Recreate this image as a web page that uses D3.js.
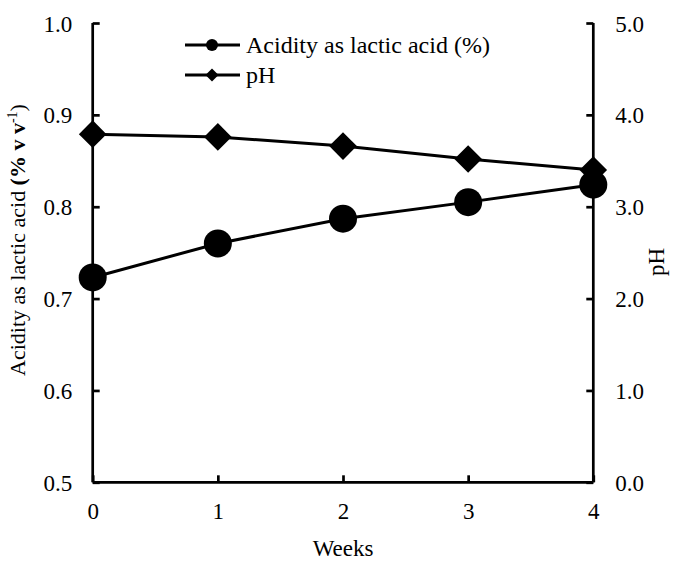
<!DOCTYPE html>
<html>
<head>
<meta charset="utf-8">
<script src="https://cdn.jsdelivr.net/npm/d3@7"></script>
<style>
  html, body { margin: 0; padding: 0; background: #fff; }
  svg { display: block; }
</style>
</head>
<body>
<svg id="chart" width="673" height="563"></svg>
<script>
const weeks = [0, 1, 2, 3, 4];
const acidity = [0.723, 0.760, 0.787, 0.805, 0.824];
const pH = [3.79, 3.76, 3.66, 3.52, 3.40];
const leftTicks = [0.5, 0.6, 0.7, 0.8, 0.9, 1.0];
const rightTicks = [0, 1, 2, 3, 4, 5];
const seriesNames = ["Acidity as lactic acid (%)", "pH"];

const FONT = "'Liberation Serif', 'Times New Roman', Times, 'DejaVu Serif', serif";
const svg = d3.select("#chart");
const m = { left: 92.7, right: 593.3, top: 23, bottom: 482.3 };

const x = d3.scaleLinear().domain([0, 4]).range([m.left, m.right]);
const yL = d3.scaleLinear().domain([0.5, 1.0]).range([m.bottom, m.top]);
const yR = d3.scaleLinear().domain([0, 5]).range([m.bottom, m.top]);

const fsTick = 23, fsLeg = 24, fsTitle = 23, fsYTitle = 22;

// Axes
const xAxis = d3.axisBottom(x).tickValues(weeks).tickSize(-7).tickPadding(0).tickFormat(d3.format("d"));
const gx = svg.append("g").attr("transform", `translate(0,${m.bottom})`).call(xAxis);
gx.select(".domain").attr("d", `M${m.left},0H${m.right}`);
gx.selectAll("text").attr("dy", null).attr("y", 37);

const lAxis = d3.axisLeft(yL).tickValues(leftTicks).tickSize(-7).tickPadding(0).tickFormat(d3.format(".1f"));
const gl = svg.append("g").attr("transform", `translate(${m.left},0)`).call(lAxis);
gl.select(".domain").attr("d", `M0,${m.top}V${m.bottom}`);
gl.selectAll("text").attr("x", -20.5).attr("dy", "0.35em");

const rAxis = d3.axisRight(yR).tickValues(rightTicks).tickSize(-7).tickPadding(0).tickFormat(d3.format(".1f"));
const gr = svg.append("g").attr("transform", `translate(${m.right},0)`).call(rAxis);
gr.select(".domain").attr("d", `M0,${m.top}V${m.bottom}`);
gr.selectAll("text").attr("x", 22).attr("dy", "0.35em");

svg.selectAll("g").attr("font-family", null).attr("font-size", null);
svg.selectAll(".domain, .tick line").attr("stroke", "#000").attr("stroke-width", 2.7);
svg.selectAll(".tick text").style("font-size", fsTick + "px");

// Axis titles
svg.append("text").attr("x", (m.left + m.right) / 2).attr("y", 556)
  .attr("text-anchor", "middle").style("font-size", fsTitle + "px").text("Weeks");

const lt = svg.append("text").attr("transform", "translate(25,240) rotate(-90)")
  .attr("text-anchor", "middle").style("font-size", fsYTitle + "px");
lt.append("tspan").text("Acidity as lactic acid ");
lt.append("tspan").style("font-weight", "bold").text("(% v v");
lt.append("tspan").attr("dy", -8).style("font-size", "14px").text("-1");
lt.append("tspan").attr("dy", 8).text(")");

svg.append("text").attr("transform", "translate(664,262) rotate(-90)")
  .attr("text-anchor", "middle").style("font-size", fsTitle + "px").text("pH");

// Lines
const lineL = d3.line().x((d, i) => x(weeks[i])).y(d => yL(d));
const lineR = d3.line().x((d, i) => x(weeks[i])).y(d => yR(d));

svg.append("path").attr("d", lineR(pH)).attr("fill", "none").attr("stroke", "#000").attr("stroke-width", 3);
svg.append("path").attr("d", lineL(acidity)).attr("fill", "none").attr("stroke", "#000").attr("stroke-width", 3);

const diamond = (s) => `M0,${-s}L${s},0L0,${s}L${-s},0Z`;

svg.selectAll(".ph").data(pH).enter().append("path")
  .attr("transform", (d, i) => `translate(${x(weeks[i])},${yR(d)})`)
  .attr("d", diamond(13.8)).attr("fill", "#000");

svg.selectAll(".ac").data(acidity).enter().append("circle")
  .attr("cx", (d, i) => x(weeks[i])).attr("cy", d => yL(d)).attr("r", 14).attr("fill", "#000");

// Legend
const lg = svg.append("g");
const legY = [45, 75];
legY.forEach((yy, i) => {
  lg.append("line").attr("x1", 185).attr("x2", 240).attr("y1", yy).attr("y2", yy)
    .attr("stroke", "#000").attr("stroke-width", 3);
  if (i === 0) lg.append("circle").attr("cx", 212).attr("cy", yy).attr("r", 6).attr("fill", "#000");
  else lg.append("path").attr("transform", `translate(212,${yy})`).attr("d", diamond(6.5)).attr("fill", "#000");
  lg.append("text").attr("x", 246).attr("y", yy).attr("dy", "0.33em")
    .style("font-size", fsLeg + "px").text(seriesNames[i]);
});

svg.selectAll("text")
  .style("font-family", FONT)
  .style("fill", "#000");
</script>
</body>
</html>
